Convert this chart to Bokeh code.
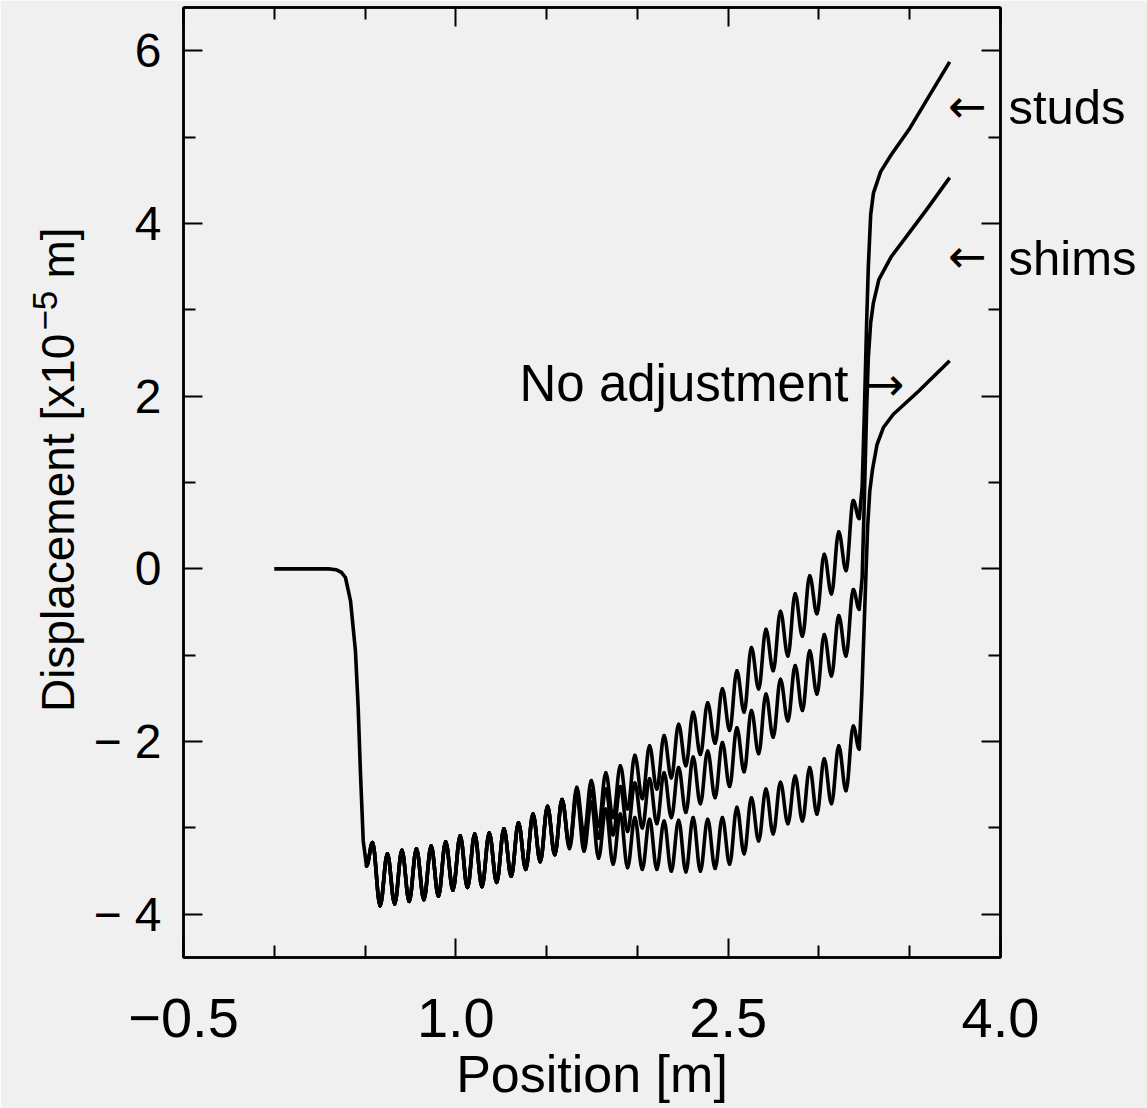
import numpy as np
from bokeh.plotting import figure
from bokeh.models import Range1d, FixedTicker, LinearAxis, Label, CustomJSTickFormatter
from bokeh.embed import file_html
from bokeh.resources import INLINE

# ---------------- data (displacement in units of 1e-5 m) ----------------
# initial flat part and steep drop (shared by all three cases)
drop_x = [0.0, 0.30, 0.34, 0.37, 0.392, 0.42, 0.447, 0.462, 0.475, 0.49, 0.508]
drop_y = [0.0, 0.0, -0.01, -0.04, -0.10, -0.37, -0.95, -1.60, -2.38, -3.15, -3.44]

# positions of the successive extrema (trough, peak, trough, peak, ...) of the ripple
ext_x = [0.508, 0.541,
         0.583, 0.623, 0.663, 0.703, 0.743, 0.783, 0.824, 0.864, 0.904, 0.944,
         0.984, 1.024, 1.064, 1.104, 1.144, 1.184, 1.225, 1.265, 1.305, 1.345,
         1.385, 1.425, 1.465, 1.505, 1.545, 1.585, 1.626, 1.666, 1.706, 1.746,
         1.786, 1.826, 1.866, 1.906, 1.946, 1.986, 2.027, 2.067, 2.107, 2.147,
         2.187, 2.227, 2.267, 2.307, 2.347, 2.387, 2.428, 2.468, 2.508, 2.548,
         2.588, 2.628, 2.668, 2.708, 2.748, 2.788, 2.829, 2.869, 2.909, 2.949,
         2.989, 3.029, 3.069, 3.109, 3.149, 3.189, 3.222]

# ripple extrema common to the three cases (first 28 extrema)
common_y = [-3.44, -3.17,
            -3.90, -3.30, -3.88, -3.26, -3.85, -3.24, -3.83, -3.21, -3.79, -3.16,
            -3.72, -3.09, -3.69, -3.07, -3.68, -3.06, -3.63, -3.01, -3.56, -2.94,
            -3.48, -2.84, -3.39, -2.75, -3.31, -2.67]

# ripple extrema after the curves separate (41 values each)
studs_y = [-3.20, -2.53, -3.08, -2.45, -2.98, -2.36, -2.88, -2.28, -2.78, -2.16,
           -2.66, -2.05, -2.55, -1.93, -2.42, -1.80, -2.28, -1.66, -2.15, -1.55,
           -2.02, -1.39, -1.87, -1.18, -1.66, -0.91, -1.39, -0.70, -1.18, -0.49,
           -1.01, -0.29, -0.78, -0.08, -0.52, 0.17, -0.29, 0.43, -0.02, 0.79,
           0.58]
shims_y = [-3.22, -2.58, -3.16, -2.57, -3.12, -2.55, -3.08, -2.52, -3.04, -2.48,
           -3.00, -2.43, -2.95, -2.36, -2.88, -2.30, -2.82, -2.18, -2.72, -2.11,
           -2.65, -2.01, -2.52, -1.84, -2.35, -1.64, -2.14, -1.45, -1.95, -1.28,
           -1.76, -1.12, -1.64, -0.95, -1.45, -0.76, -1.24, -0.54, -1.01, -0.24,
           -0.47]
noadj_y = [-3.24, -2.62, -3.27, -2.70, -3.35, -2.78, -3.42, -2.84, -3.46, -2.88,
           -3.48, -2.90, -3.48, -2.92, -3.50, -2.91, -3.51, -2.88, -3.50, -2.90,
           -3.47, -2.88, -3.42, -2.76, -3.30, -2.65, -3.15, -2.55, -3.07, -2.47,
           -2.95, -2.40, -2.92, -2.30, -2.84, -2.20, -2.72, -2.05, -2.57, -1.82,
           -2.09]

# final steep rise of each case
studs_rise_x = [3.238, 3.25, 3.262, 3.272, 3.285, 3.30, 3.34, 3.40, 3.50, 3.60, 3.72]
studs_rise_y = [0.95, 1.80, 2.80, 3.50, 4.10, 4.35, 4.60, 4.80, 5.10, 5.45, 5.87]
shims_rise_x = [3.238, 3.25, 3.262, 3.272, 3.285, 3.30, 3.33, 3.40, 3.50, 3.60, 3.72]
shims_rise_y = [-0.10, 0.80, 1.80, 2.45, 2.85, 3.08, 3.35, 3.62, 3.90, 4.18, 4.53]
noadj_rise_x = [3.236, 3.255, 3.268, 3.28, 3.295, 3.32, 3.356, 3.41, 3.55, 3.72]
noadj_rise_y = [-1.45, -0.29, 0.48, 0.90, 1.15, 1.44, 1.64, 1.79, 2.06, 2.41]

x_ticks = [-0.5, 1.0, 2.5, 4.0]
x_minor = [0.0, 0.5, 1.5, 2.0, 3.0, 3.5]
y_ticks = [-4, -2, 0, 2, 4, 6]
y_minor = [-3, -1, 1, 3, 5]

# names written at the right of the frame, at the height of their curves
case_names = ["studs", "shims"]
case_name_y = [5.35, 3.60]

# ---------------- figure ----------------
FONT = "Liberation Sans"
BG = "#f0f0f0"
LW = 3.6

p = figure(width=1147, height=1108, output_backend="svg", toolbar_location=None,
           x_range=Range1d(-0.5, 4.0), y_range=Range1d(-4.5, 6.5),
           min_border_left=183, min_border_right=147, min_border_top=7,
           min_border_bottom=151, x_axis_location=None, y_axis_location=None)
p.background_fill_color = BG
p.border_fill_color = BG
p.outline_line_color = "black"
p.outline_line_width = 2.5
p.xgrid.visible = False
p.ygrid.visible = False

fmt_x = CustomJSTickFormatter(code="return tick.toFixed(1).replace('-', '\u2212');")
fmt_y = CustomJSTickFormatter(code="return tick.toFixed(0).replace('-', '\u2212\u00a0');")


def style_axis(ax, ticks, minor, show_labels, fmt, size, standoff):
    ax.ticker = FixedTicker(ticks=ticks, minor_ticks=minor)
    ax.formatter = fmt
    ax.axis_line_width = 2.5
    ax.major_tick_in = 19
    ax.major_tick_out = 0
    ax.minor_tick_in = 12
    ax.minor_tick_out = 0
    ax.major_tick_line_width = 2
    ax.minor_tick_line_width = 2
    ax.major_label_text_font = FONT
    ax.major_label_standoff = standoff
    ax.axis_label_text_font = FONT
    ax.axis_label_text_font_style = "normal"
    ax.axis_label_text_color = "black"
    if show_labels:
        ax.major_label_text_font_size = size
        ax.major_label_text_color = "black"
    else:
        ax.major_label_text_font_size = "0px"
        ax.major_label_text_color = None


def text_axis(ticks, texts, size, standoff, orientation="horizontal"):
    ax = LinearAxis(ticker=FixedTicker(ticks=ticks, minor_ticks=[]),
                    formatter=CustomJSTickFormatter(
                        args=dict(pos=ticks, names=texts),
                        code="const i = pos.indexOf(tick); return i >= 0 ? names[i] : '';"))
    ax.axis_line_color = None
    ax.major_tick_line_color = None
    ax.minor_tick_line_color = None
    ax.major_tick_in = 0
    ax.major_tick_out = 0
    ax.major_label_standoff = standoff
    ax.major_label_text_font = FONT
    ax.major_label_text_font_size = size
    ax.major_label_text_color = "black"
    ax.major_label_orientation = orientation
    return ax


bottom = LinearAxis()
style_axis(bottom, x_ticks, x_minor, True, fmt_x, "56px", 41)
bottom.axis_label = "Position [m]"
bottom.axis_label_text_font_size = "52px"
bottom.axis_label_standoff = 5
p.add_layout(bottom, "below")

top = LinearAxis()
style_axis(top, x_ticks, x_minor, False, fmt_x, "0px", 0)
p.add_layout(top, "above")

left = LinearAxis()
style_axis(left, y_ticks, y_minor, True, fmt_y, "48px", 22)
left.axis_label = "\u00a0\u00a0Displacement [x10\u2003\u2009m]"
left.axis_label_text_font_size = "46px"
left.axis_label_standoff = 6
p.add_layout(left, "left")

# exponent of the y axis title, written as a raised smaller text
exp_axis = text_axis([2.99], ["\u22125"], "35px", -28, orientation="parallel")
p.add_layout(exp_axis, "left")

right = LinearAxis()
style_axis(right, y_ticks, y_minor, False, fmt_y, "0px", 0)
p.add_layout(right, "right")

# axis carrying only the case names on the right-hand side
p.add_layout(text_axis(case_name_y, case_names, "49px", 8), "right")

# ---------------- curves ----------------
p.line(drop_x, drop_y, line_color="black", line_width=LW, line_join="round")


def draw_case(tail, rise_x, rise_y):
    ys = np.array(common_y + tail)
    xs = np.array(ext_x)
    d = np.diff(xs)
    x0, x1 = xs[:-1], xs[1:]
    y0, y1 = ys[:-1], ys[1:]
    p.bezier(x0=x0, y0=y0, x1=x1, y1=y1,
             cx0=x0 + 0.36 * d, cy0=y0, cx1=x1 - 0.36 * d, cy1=y1,
             line_color="black", line_width=LW, line_cap="round")
    p.line([xs[-1]] + rise_x, [ys[-1]] + rise_y, line_color="black",
           line_width=LW, line_join="round")


draw_case(noadj_y, noadj_rise_x, noadj_rise_y)
draw_case(shims_y, shims_rise_x, shims_rise_y)
draw_case(studs_y, studs_rise_x, studs_rise_y)

# ---------------- texts inside the frame ----------------
def lab(x, y, text, size, font=FONT, align="left", baseline="alphabetic"):
    p.add_layout(Label(x=x, y=y, text=text, text_font=font, text_font_size=size,
                       text_color="black", text_align=align, text_baseline=baseline))


lab(3.817, 5.365, "\u2190", "46px", font="DejaVu Sans", align="center", baseline="middle")
lab(3.817, 3.628, "\u2190", "46px", font="DejaVu Sans", align="center", baseline="middle")
lab(3.162, 2.15, "No adjustment", "51px", align="right")
lab(3.366, 2.146, "\u2192", "46px", font="DejaVu Sans", align="center", baseline="middle")

open("out.html", "w").write(file_html(p, INLINE))
